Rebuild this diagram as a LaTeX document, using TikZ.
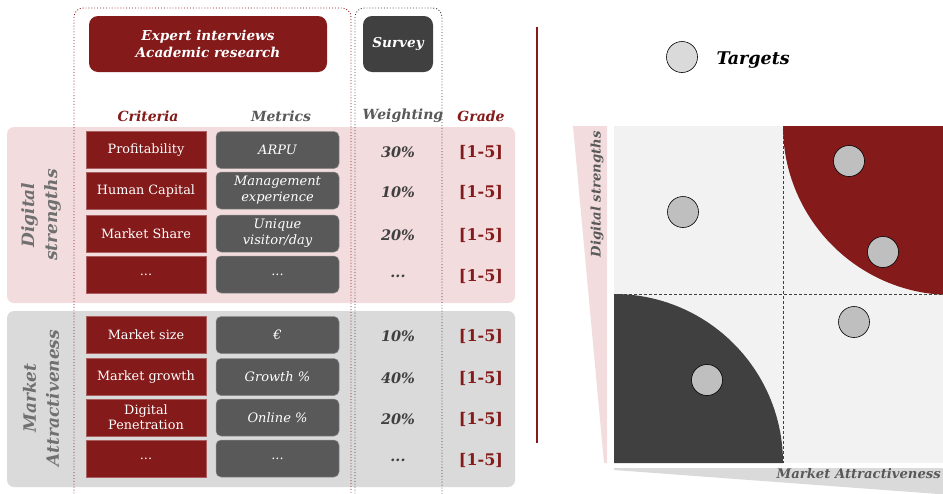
\documentclass[tikz,border=0pt]{standalone}
\usepackage{fontspec}
\setmainfont{DejaVu Serif}
\begin{document}
\definecolor{brandred}{HTML}{841A1A}
\definecolor{pinkpanel}{HTML}{F2DCDD}
\definecolor{greypanel}{HTML}{DADADA}
\definecolor{metricgrey}{HTML}{595959}
\definecolor{darkgrey}{HTML}{404040}
\definecolor{matrixbg}{HTML}{F2F2F2}
\definecolor{dotgrey}{HTML}{BFBFBF}
\definecolor{labelgrey}{HTML}{707070}
\newcommand{\fs}[1]{\fontsize{#1}{#1}\selectfont}
\begin{tikzpicture}[x=1pt,y=-1pt,
  panel/.style={rounded corners=7pt, draw=none},
  crit/.style={fill=brandred, draw=brandred!70!white, line width=0.5pt,
    minimum width=120pt, minimum height=37pt, inner sep=1pt,
    text=white, align=center, font=\fs{12.8}, execute at begin node=\setlength{\baselineskip}{15pt}},
  metric/.style={fill=metricgrey, draw=metricgrey!70!white, line width=0.5pt, rounded corners=5pt,
    minimum width=123pt, minimum height=37pt, inner sep=1pt,
    text=white, align=center, font=\fs{13}\itshape, execute at begin node=\setlength{\baselineskip}{16pt}},
  weight/.style={text=darkgrey, font=\fs{14.5}\bfseries\itshape},
  grade/.style={text=brandred, font=\fs{16}\bfseries},
  head/.style={font=\fs{14}\bfseries\itshape},
  source/.style={rounded corners=9pt, minimum height=56pt, text=white,
    align=center, font=\fs{13.6}\bfseries\itshape, execute at begin node=\setlength{\baselineskip}{17pt}},
  target/.style={circle, draw=black, line width=0.6pt, fill=dotgrey, minimum size=31pt, inner sep=0pt},
  sidelabel/.style={rotate=90, text=labelgrey, align=center, font=\fs{17}\bfseries\itshape,
    execute at begin node=\setlength{\baselineskip}{23pt}},
  axislabel/.style={text=metricgrey, font=\fs{13.2}\bfseries\itshape, inner sep=0pt}
]
\clip (0,0) rectangle (943,493);

% ---------- scoring table ----------
\fill[pinkpanel, panel] (7,127) rectangle (515,303);
\fill[greypanel, panel] (7,311) rectangle (515,487);

% dotted source brackets
\draw[brandred, dotted, line width=0.9pt, rounded corners=9pt] (74,505) -- (74,8) -- (351,8) -- (351,505);
\draw[darkgrey, dotted, line width=0.9pt, rounded corners=9pt] (355,505) -- (355,8) -- (442,8) -- (442,505);

\node[source, fill=brandred, minimum width=238pt] (expert) at (208,44) {Expert interviews\\Academic research};
\node[source, fill=darkgrey, minimum width=70pt] (survey) at (398,44) {Survey};

\node[head, text=brandred] (hcrit) at (148,116) {Criteria};
\node[head, text=metricgrey] (hmet) at (281,116) {Metrics};
\node[head, text=metricgrey] (hweight) at (403,116) {Weighting};
\node[head, text=brandred] (hgrade) at (481,116) {Grade};

\node[sidelabel] (lds) at (41,215) {Digital\\strengths};
\node[sidelabel] (lma) at (41,398) {Market\\Attractiveness};

% Digital strengths rows
\node[crit] (c1) at (146,150) {Profitability};
\node[crit] (c2) at (146,190.5) {Human Capital};
\node[crit] (c3) at (146,233.5) {Market Share};
\node[crit] (c4) at (146,274.5) {...};
\node[metric] (m1) at (277.5,150) {ARPU};
\node[metric] (m2) at (277.5,190.5) {Management\\experience};
\node[metric] (m3) at (277.5,233.5) {Unique\\visitor/day};
\node[metric] (m4) at (277.5,274.5) {...};
\node[weight] (w1) at (398,152) {30\%};
\node[weight] (w2) at (398,192.5) {10\%};
\node[weight] (w3) at (398,235.5) {20\%};
\node[weight] (w4) at (398,276.5) {...};
\node[grade] (g1) at (481,152) {[1-5]};
\node[grade] (g2) at (481,192.5) {[1-5]};
\node[grade] (g3) at (481,235.5) {[1-5]};
\node[grade] (g4) at (481,276.5) {[1-5]};

% Market attractiveness rows
\node[crit] (c5) at (146,335) {Market size};
\node[crit] (c6) at (146,377) {Market growth};
\node[crit] (c7) at (146,417.5) {Digital\\Penetration};
\node[crit] (c8) at (146,458.5) {...};
\node[metric] (m5) at (277.5,335) {€};
\node[metric] (m6) at (277.5,377) {Growth \%};
\node[metric] (m7) at (277.5,417.5) {Online \%};
\node[metric] (m8) at (277.5,458.5) {...};
\node[weight] (w5) at (398,336) {10\%};
\node[weight] (w6) at (398,378) {40\%};
\node[weight] (w7) at (398,419) {20\%};
\node[weight] (w8) at (398,460) {...};
\node[grade] (g5) at (481,336) {[1-5]};
\node[grade] (g6) at (481,378) {[1-5]};
\node[grade] (g7) at (481,419) {[1-5]};
\node[grade] (g8) at (481,460) {[1-5]};

% separator
\draw[brandred, line width=1.3pt] (537,27) -- (537,443);

% ---------- targets matrix ----------
\node[target, fill=greypanel] (legend) at (682,57) {};
\node[font=\fs{17.5}\bfseries\itshape, anchor=west] (legendtxt) at (713,60) {Targets};

\fill[matrixbg] (614,126) rectangle (952,463);
\fill[brandred] (952,126) -- (783,126) arc[start angle=180, end angle=270, radius=169pt] -- cycle;
\fill[darkgrey] (614,463) -- (614,294) arc[start angle=90, end angle=0, radius=169pt] -- cycle;
\draw[darkgrey, line width=0.7pt, dash pattern=on 3pt off 2pt] (783,126) -- (783,463);
\draw[darkgrey, line width=0.7pt, dash pattern=on 3pt off 2pt] (614,294) -- (952,294);

% axis wedges
\fill[pinkpanel] (573,126) -- (607,126) -- (607,463) -- (604,463) -- cycle;
\fill[greypanel] (614,468) -- (952,468) -- (952,495) -- (614,470) -- cycle;
\node[axislabel, rotate=90, anchor=east] (ylab) at (597,131) {Digital strengths};
\node[axislabel, anchor=east] (xlab) at (941,474) {Market Attractiveness};

\node[target] (t1) at (849,161) {};
\node[target] (t2) at (683,212) {};
\node[target] (t3) at (883,252) {};
\node[target] (t4) at (854,322) {};
\node[target] (t5) at (707,380) {};
\end{tikzpicture}
\end{document}
